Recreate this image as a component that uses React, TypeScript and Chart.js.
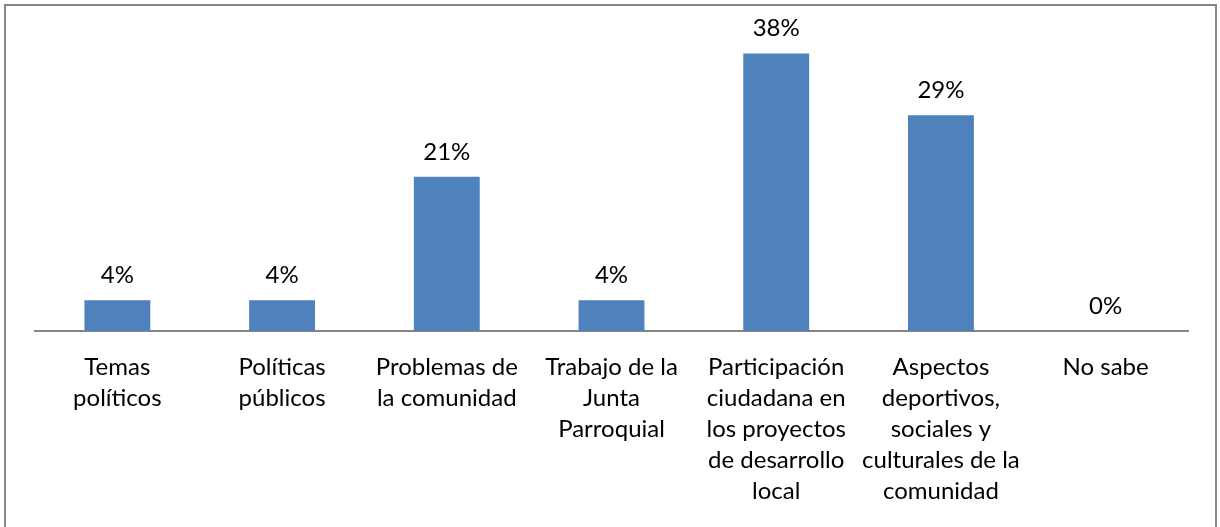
import React, { useEffect, useRef } from "react";
import { Chart, registerables } from "chart.js";

Chart.register(...registerables);

const categories: string[][] = [
  ["Temas", "políticos"],
  ["Políticas", "públicos"],
  ["Problemas de", "la comunidad"],
  ["Trabajo de la", "Junta", "Parroquial"],
  ["Participación", "ciudadana en", "los proyectos", "de desarrollo", "local"],
  ["Aspectos", "deportivos,", "sociales y", "culturales de la", "comunidad"],
  ["No sabe"],
];
const values: number[] = [4.17, 4.17, 20.83, 4.17, 37.5, 29.17, 0];
const valueLabels: string[] = ["4%", "4%", "21%", "4%", "38%", "29%", "0%"];

const FONT = "Lato, 'Open Sans', sans-serif";
const FONT_SIZE = 24;

export default function App() {
  const ref = useRef<HTMLCanvasElement>(null);
  useEffect(() => {
    if (!ref.current) return;
    const frame = {
      id: "frame",
      beforeDraw(chart: any) {
        const ctx = chart.ctx;
        ctx.save();
        ctx.fillStyle = "#ffffff";
        ctx.fillRect(0, 0, chart.width, chart.height);
        ctx.strokeStyle = "#868686";
        ctx.lineWidth = 2;
        ctx.strokeRect(5, 5, 1211, 540);
        ctx.restore();
      },
    };
    const labelsPlugin = {
      id: "valueLabels",
      afterDatasetsDraw(chart: any) {
        const ctx = chart.ctx;
        const meta = chart.getDatasetMeta(0);
        ctx.save();
        ctx.font = `${FONT_SIZE}px ${FONT}`;
        ctx.fillStyle = "#000000";
        ctx.textAlign = "center";
        ctx.textBaseline = "middle";
        meta.data.forEach((bar: any, i: number) => {
          ctx.fillText(valueLabels[i], bar.x, bar.y - 25);
        });
        ctx.restore();
      },
    };
    const chart = new Chart(ref.current, {
      type: "bar",
      data: {
        labels: categories,
        datasets: [
          {
            data: values,
            backgroundColor: "#4F81BD",
            categoryPercentage: 1,
            barPercentage: 0.4,
          },
        ],
      },
      options: {
        animation: false,
        responsive: false,
        maintainAspectRatio: false,
        layout: { padding: { left: 35, right: 32, top: 35, bottom: 0 } },
        plugins: { legend: { display: false }, tooltip: { enabled: false } },
        scales: {
          y: { display: false, min: 0, max: 40 },
          x: {
            grid: { display: false, drawTicks: false },
            border: { display: true, color: "#868686", width: 2 },
            ticks: {
              color: "#000000",
              padding: 21,
              maxRotation: 0,
              autoSkip: false,
              font: { family: FONT, size: FONT_SIZE, lineHeight: "31px" as any },
            },
            afterFit(scale: any) {
              scale.height = 196;
            },
          },
        },
      },
      plugins: [frame, labelsPlugin],
    });
    return () => chart.destroy();
  }, []);
  return (
    <div style={{ position: "fixed", left: 0, top: 0, width: 1220, height: 527 }}>
      <canvas ref={ref} width={1220} height={527} style={{ width: 1220, height: 527 }} />
    </div>
  );
}
